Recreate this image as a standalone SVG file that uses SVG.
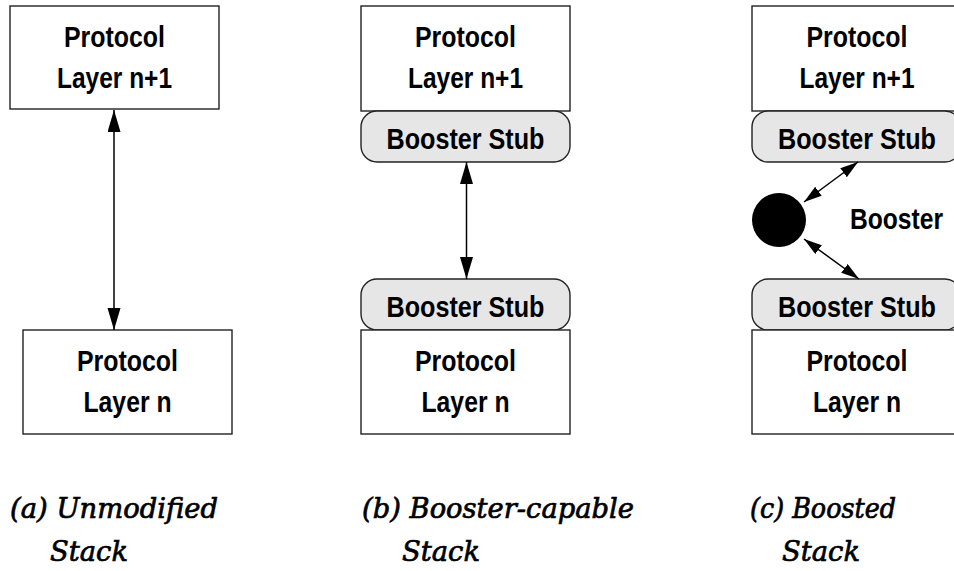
<svg xmlns="http://www.w3.org/2000/svg" width="954" height="571" viewBox="0 0 954 571">
<defs>
<style>
.box{fill:#fff;stroke:#222;stroke-width:1.4}
.stub{fill:#e6e6e6;stroke:#222;stroke-width:1.4}
.lbl{font-family:"Liberation Sans",Arial,sans-serif;font-weight:bold;font-size:30px;fill:#000;text-anchor:middle}
.lbs{font-family:"Liberation Sans",Arial,sans-serif;font-weight:bold;font-size:26px;fill:#000;text-anchor:middle}
.cap{font-family:"DejaVu Serif","Liberation Serif",serif;font-style:italic;font-size:27px;fill:#000;stroke:#000;stroke-width:0.7}
.conn{stroke:#000;stroke-width:1.5;fill:none}
</style>
<marker id="ah" markerUnits="userSpaceOnUse" markerWidth="23" markerHeight="14" refX="22" refY="6.5" orient="auto-start-reverse">
<path d="M0,0 L22,6.5 L0,13 z" fill="#000"/>
</marker>
<marker id="ahs" markerUnits="userSpaceOnUse" markerWidth="19" markerHeight="12" refX="18" refY="5.5" orient="auto-start-reverse">
<path d="M0,0 L18,5.5 L0,11 z" fill="#000"/>
</marker>
</defs>
<rect width="954" height="571" fill="#fff"/>

<g id="a-top">
<rect class="box" x="10" y="6" width="209" height="103"/>
<text class="lbl" x="114.5" y="47" textLength="101" lengthAdjust="spacingAndGlyphs">Protocol</text>
<text class="lbl" x="114.5" y="88" textLength="115" lengthAdjust="spacingAndGlyphs">Layer n+1</text>
</g>
<g id="a-bottom">
<rect class="box" x="23" y="330" width="209" height="104"/>
<text class="lbl" x="127.5" y="371" textLength="101" lengthAdjust="spacingAndGlyphs">Protocol</text>
<text class="lbl" x="127.5" y="412" textLength="88" lengthAdjust="spacingAndGlyphs">Layer n</text>
</g>

<g id="b-top">
<rect class="box" x="361" y="6" width="209" height="105"/>
<text class="lbl" x="465.5" y="47" textLength="101" lengthAdjust="spacingAndGlyphs">Protocol</text>
<text class="lbl" x="465.5" y="88" textLength="115" lengthAdjust="spacingAndGlyphs">Layer n+1</text>
</g>
<g id="b-stub-top">
<rect class="stub" x="361" y="111" width="209" height="51" rx="16" ry="16"/>
<text class="lbl" x="465.5" y="149" textLength="158" lengthAdjust="spacingAndGlyphs">Booster Stub</text>
</g>
<g id="b-stub-bottom">
<rect class="stub" x="361" y="279" width="209" height="51" rx="16" ry="16"/>
<text class="lbl" x="465.5" y="317" textLength="158" lengthAdjust="spacingAndGlyphs">Booster Stub</text>
</g>
<g id="b-bottom">
<rect class="box" x="361" y="330" width="209" height="104"/>
<text class="lbl" x="465.5" y="371" textLength="101" lengthAdjust="spacingAndGlyphs">Protocol</text>
<text class="lbl" x="465.5" y="412" textLength="88" lengthAdjust="spacingAndGlyphs">Layer n</text>
</g>

<g id="c-top">
<rect class="box" x="752" y="6" width="209" height="105"/>
<text class="lbl" x="857" y="47" textLength="101" lengthAdjust="spacingAndGlyphs">Protocol</text>
<text class="lbl" x="857" y="88" textLength="115" lengthAdjust="spacingAndGlyphs">Layer n+1</text>
</g>
<g id="c-stub-top">
<rect class="stub" x="752" y="111" width="209" height="51" rx="16" ry="16"/>
<text class="lbs" x="857" y="129.13" transform="scale(1,1.1538)" textLength="158" lengthAdjust="spacingAndGlyphs">Booster Stub</text>
</g>
<g id="c-booster">
<circle cx="779" cy="220" r="27" fill="#000"/>
<text class="lbs" x="896.5" y="198.47" transform="scale(1,1.1538)" textLength="93" lengthAdjust="spacingAndGlyphs">Booster</text>
</g>
<g id="c-stub-bottom">
<rect class="stub" x="752" y="279" width="209" height="51" rx="16" ry="16"/>
<text class="lbs" x="857" y="274.74" transform="scale(1,1.1538)" textLength="158" lengthAdjust="spacingAndGlyphs">Booster Stub</text>
</g>
<g id="c-bottom">
<rect class="box" x="752" y="330" width="209" height="104"/>
<text class="lbl" x="857" y="371" textLength="101" lengthAdjust="spacingAndGlyphs">Protocol</text>
<text class="lbl" x="857" y="412" textLength="88" lengthAdjust="spacingAndGlyphs">Layer n</text>
</g>

<g id="connectors">
<line class="conn" x1="114" y1="110" x2="114" y2="330" marker-start="url(#ah)" marker-end="url(#ah)"/>
<line class="conn" x1="466.5" y1="162" x2="466.5" y2="279" marker-start="url(#ah)" marker-end="url(#ah)"/>
<line class="conn" x1="804" y1="202" x2="858" y2="162" marker-start="url(#ahs)" marker-end="url(#ahs)"/>
<line class="conn" x1="804" y1="239" x2="859" y2="279" marker-start="url(#ahs)" marker-end="url(#ahs)"/>
</g>

<g id="captions">
<text class="cap" x="10" y="518" textLength="208" lengthAdjust="spacingAndGlyphs">(a) Unmodified</text>
<text class="cap" x="50" y="561" textLength="78" lengthAdjust="spacingAndGlyphs">Stack</text>
<text class="cap" x="362" y="518" textLength="272" lengthAdjust="spacingAndGlyphs">(b) Booster-capable</text>
<text class="cap" x="402" y="561" textLength="78" lengthAdjust="spacingAndGlyphs">Stack</text>
<text class="cap" x="750" y="518" textLength="146" lengthAdjust="spacingAndGlyphs">(c) Boosted</text>
<text class="cap" x="782" y="561" textLength="78" lengthAdjust="spacingAndGlyphs">Stack</text>
</g>
</svg>
